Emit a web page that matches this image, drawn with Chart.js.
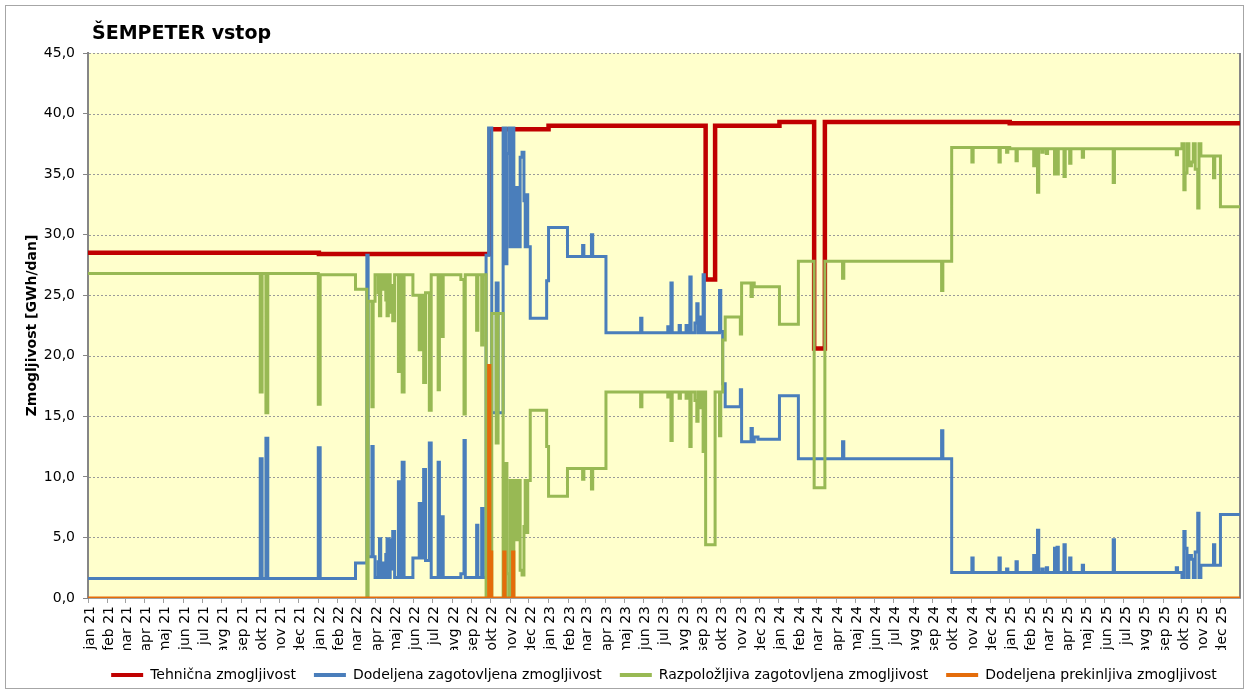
<!DOCTYPE html>
<html><head><meta charset="utf-8">
<script src="https://cdn.jsdelivr.net/npm/chart.js@4.4.1/dist/chart.umd.min.js"></script>
<style>html,body{margin:0;padding:0;background:#fff}#wrap{position:relative;width:1249px;height:694px}</style>
</head><body><div id="wrap"><canvas id="c" width="1249" height="694"></canvas></div>
<script>
// x = days since 1 jan 2021
const monthLabels = [
 'jan 21','feb 21','mar 21','apr 21','maj 21','jun 21','jul 21','avg 21','sep 21','okt 21','nov 21','dec 21',
 'jan 22','feb 22','mar 22','apr 22','maj 22','jun 22','jul 22','avg 22','sep 22','okt 22','nov 22','dec 22',
 'jan 23','feb 23','mar 23','apr 23','maj 23','jun 23','jul 23','avg 23','sep 23','okt 23','nov 23','dec 23',
 'jan 24','feb 24','mar 24','apr 24','maj 24','jun 24','jul 24','avg 24','sep 24','okt 24','nov 24','dec 24',
 'jan 25','feb 25','mar 25','apr 25','maj 25','jun 25','jul 25','avg 25','sep 25','okt 25','nov 25','dec 25'];
const monthDays = [
 0,31,59,90,120,151,181,212,243,273,304,334,
 365,396,424,455,485,516,546,577,608,638,669,699,
 730,761,789,820,850,881,911,942,973,1003,1034,1064,
 1095,1126,1155,1186,1216,1247,1277,1308,1339,1369,1400,1430,
 1461,1492,1520,1551,1581,1612,1642,1673,1704,1734,1765,1795];
const lastDay = 1826;

const tehDays = [0,366,637,730,979,994,1096,1151,1168,1461,1826];
const tehVals = [28.5,28.4,38.7,39.0,26.3,39.0,39.3,20.6,39.3,39.2,39.2];

const zagDays = [0,273,276,282,285,365,368,424,442,444,450,452,455,460,462,464,467,469,472,474,476,479,481,483,486,492,494,498,501,
 515,525,528,532,535,541,544,555,557,561,563,591,596,598,616,618,624,626,
 631,635,640,647,650,658,662,664,667,669,672,675,679,681,685,688,691,693,695,697,701,727,730,
 760,784,786,798,800,821,876,878,919,921,924,926,937,939,948,950,954,956,962,965,967,970,972,975,977,
 1001,1003,1006,1010,1034,1036,1051,1053,1056,1062,1096,1126,1196,1198,1353,1355,1369,
 1401,1403,1444,1446,1456,1458,1471,1473,1499,1501,1505,1507,1512,1514,1519,1521,1532,1535,1536,1538,1547,1549,1556,1558,1576,1578,
 1625,1627,1725,1727,1734,1737,1739,1742,1745,1749,1752,1755,1759,1761,1764,1784,1786,1795,1826];
const zagVals = [1.6,11.5,1.6,13.2,1.6,12.4,1.6,2.9,28.3,3.4,12.5,3.4,1.7,3.0,4.9,1.7,2.9,1.7,3.6,4.9,1.7,4.8,2.4,5.5,1.7,9.6,1.7,11.2,1.7,
 3.3,7.8,3.3,10.6,3.1,12.8,1.7,11.2,1.7,6.7,1.7,2.0,13.0,1.7,6.0,1.7,7.4,1.7,
 28.3,38.8,15.3,26.0,15.3,38.8,27.6,36.7,38.8,29.0,38.8,29.0,33.9,29.0,36.4,36.8,32.8,29.0,33.3,29.0,23.1,26.2,30.6,
 28.2,29.1,28.2,30.0,28.2,21.9,23.1,21.9,22.4,21.9,26.0,21.9,22.5,21.9,22.5,21.9,26.5,21.9,22.7,24.3,21.9,23.2,21.9,26.7,21.9,
 25.4,22.0,17.7,15.8,17.2,12.9,14.0,12.9,13.3,13.1,16.7,11.5,12.9,11.5,13.8,11.5,2.1,
 3.3,2.1,3.3,2.1,2.4,2.1,3.0,2.1,3.5,2.1,5.6,2.1,2.4,2.1,2.5,2.1,4.1,2.1,4.2,2.1,4.4,2.1,3.3,2.1,2.7,2.1,
 4.8,2.1,2.5,2.1,1.7,5.5,4.1,1.7,3.5,3.2,1.7,3.8,7.0,1.7,2.7,4.4,2.7,6.9,6.9];

const razDays = [0,273,276,282,285,365,368,424,442,444,450,452,455,460,462,464,467,469,472,474,476,479,481,483,486,492,494,498,501,
 515,525,528,532,535,541,544,555,557,561,563,591,596,598,616,618,624,626,
 631,640,647,650,658,662,664,667,669,672,675,679,681,685,688,691,693,695,697,701,727,730,
 760,784,786,798,800,821,876,878,919,921,924,926,937,939,948,950,954,956,962,965,967,970,972,975,977,979,994,
 1001,1003,1006,1010,1034,1036,1051,1053,1056,1096,1126,1151,1168,1196,1198,1353,1355,1369,
 1401,1403,1444,1446,1456,1458,1461,1471,1473,1499,1501,1505,1507,1512,1514,1519,1521,1532,1535,1536,1538,1547,1549,1556,1558,1576,1578,
 1625,1627,1725,1727,1734,1737,1739,1742,1745,1749,1752,1755,1759,1761,1764,1784,1786,1795,1826];
const razVals = [26.8,17.0,26.8,15.3,26.8,16.0,26.7,25.5,0,24.5,15.8,24.5,26.7,25.2,23.3,26.7,25.5,26.7,24.6,23.3,26.7,23.6,25.8,22.9,26.7,18.7,26.7,17.0,26.7,
 25.0,20.5,25.0,17.8,25.2,15.5,26.7,17.2,26.7,21.6,26.7,26.3,15.2,26.7,22.1,26.7,20.9,26.7,
 0,23.5,12.8,23.5,0,11.1,2.0,0,9.7,0,9.7,4.8,9.7,2.3,1.9,5.9,9.7,5.4,9.7,15.5,12.5,8.4,
 10.7,9.8,10.7,9.0,10.7,17.0,15.8,17.0,16.6,17.0,13.0,17.0,16.5,17.0,16.5,17.0,12.5,17.0,16.3,14.6,17.0,15.7,17.0,12.1,17.0,4.4,17.0,
 13.4,17.0,21.3,23.2,21.8,26.0,24.9,26.0,25.7,22.6,27.8,9.1,27.8,26.4,27.8,25.4,27.8,37.2,
 36.0,37.2,36.0,37.2,36.8,37.2,37.1,36.1,37.1,35.7,37.1,33.5,37.1,36.8,37.1,36.7,37.1,35.0,37.1,35.0,37.1,34.8,37.1,35.9,37.1,36.4,37.1,
 34.3,37.1,36.6,37.1,37.5,33.7,35.1,37.5,35.7,36.0,37.5,35.4,32.2,37.5,36.5,34.7,36.5,32.3,32.3];

const preDays = [0,635,637,638,640,659,661,673,675,1826];
const preVals = [0,19.2,0,3.8,0,3.8,0,3.8,0,0];

const seriesNames = ['Tehnična zmogljivost','Dodeljena zagotovljena zmogljivost','Razpoložljiva zagotovljena zmogljivost','Dodeljena prekinljiva zmogljivost'];
const seriesColors = ['#C00000','#4A7EBB','#98B954','#E46C0A'];
const yTicks = [0,5,10,15,20,25,30,35,40,45];

const pts = (d, v) => d.map((x, i) => ({x: x, y: v[i]}));
const FONT = 'DejaVu Sans';

const deco = {
  id: 'deco',
  beforeDraw(chart) {
    const {ctx, chartArea: a} = chart;
    ctx.save();
    ctx.fillStyle = '#FFFFCC';
    ctx.fillRect(a.left, a.top, a.right - a.left, a.bottom - a.top);
    ctx.restore();
  },
  beforeDatasetsDraw(chart) {
    const {ctx, chartArea: a} = chart;
    const ys = chart.scales.y;
    ctx.save();
    ctx.strokeStyle = '#9a9a9a';
    ctx.lineWidth = 1;
    ctx.setLineDash([2, 2]);
    yTicks.forEach(v => {
      if (v === 0) return;
      const y = Math.round(ys.getPixelForValue(v)) + 0.5;
      ctx.beginPath();
      ctx.moveTo(a.left + 1, y);
      ctx.lineTo(a.right, y);
      ctx.stroke();
    });
    ctx.setLineDash([]);
    ctx.strokeStyle = '#868686';
    ctx.lineWidth = 2;
    ctx.beginPath();
    ctx.moveTo(a.right, a.top);
    ctx.lineTo(a.right, a.bottom);
    ctx.stroke();
    ctx.restore();
  },
  afterDraw(chart) {
    const {ctx} = chart;
    ctx.save();
    ctx.strokeStyle = '#a6a6a6';
    ctx.lineWidth = 1;
    ctx.strokeRect(5.5, 5.5, 1238, 683);
    ctx.fillStyle = '#000';
    ctx.font = 'bold 19px "' + FONT + '"';
    ctx.textBaseline = 'alphabetic';
    ctx.fillText('ŠEMPETER vstop', 92, 39);
    ctx.restore();
  }
};

new Chart(document.getElementById('c'), {
  type: 'line',
  data: {
    datasets: [
      {label: seriesNames[0], data: pts(tehDays, tehVals), borderColor: seriesColors[0], backgroundColor: seriesColors[0], borderWidth: 4.5, order: 4},
      {label: seriesNames[1], data: pts(zagDays, zagVals), borderColor: seriesColors[1], backgroundColor: seriesColors[1], borderWidth: 3, order: 3},
      {label: seriesNames[2], data: pts(razDays, razVals), borderColor: seriesColors[2], backgroundColor: seriesColors[2], borderWidth: 3, order: 2},
      {label: seriesNames[3], data: pts(preDays, preVals), borderColor: seriesColors[3], backgroundColor: seriesColors[3], borderWidth: 3, order: 1}
    ]
  },
  options: {
    responsive: false,
    animation: false,
    elements: {line: {stepped: true, tension: 0, borderJoinStyle: 'miter'}, point: {radius: 0, hoverRadius: 0}},
    layout: {padding: {top: 53, right: 9, left: 0, bottom: 2}},
    scales: {
      x: {
        type: 'linear', min: 0, max: lastDay,
        afterBuildTicks: s => { s.ticks = monthDays.map(v => ({value: v})); },
        afterFit: s => { s.height = 52; },
        ticks: {autoSkip: false, maxRotation: 90, minRotation: 90, padding: 3, labelOffset: 2, color: '#000',
          font: {family: FONT, size: 14}, callback: (v, i) => monthLabels[i]},
        grid: {drawOnChartArea: false, drawTicks: true, tickLength: 5, color: '#a0a0a0'},
        border: {display: true, color: '#a0a0a0', width: 1}
      },
      y: {
        min: 0, max: 45,
        afterBuildTicks: s => { s.ticks = yTicks.map(v => ({value: v})); },
        afterFit: s => { s.width = 88; },
        ticks: {padding: 8, color: '#000', font: {family: FONT, size: 14},
          callback: v => v.toFixed(1).replace('.', ',')},
        grid: {drawOnChartArea: false, drawTicks: true, color: '#868686', lineWidth: 1, tickLength: 5},
        border: {display: true, color: '#868686', width: 2}
        ,
        title: {display: true, text: 'Zmogljivost [GWh/dan]', color: '#000',
          font: {family: FONT, size: 14, weight: 'bold'}, padding: {top: 24, bottom: 0}}
      }
    },
    plugins: {
      title: {display: false},
      tooltip: {enabled: false},
      legend: {
        position: 'bottom',
        fullSize: false,
        labels: {
          color: '#000', font: {family: FONT, size: 14}, boxWidth: 32, boxHeight: 4, padding: 18,
          generateLabels: chart => chart.data.datasets.map((ds, i) => ({
            text: ds.label, fillStyle: ds.borderColor, strokeStyle: ds.borderColor, lineWidth: 0,
            hidden: false, datasetIndex: i, fontColor: '#000'
          }))
        }
      }
    }
  },
  plugins: [deco]
});
</script></body></html>
